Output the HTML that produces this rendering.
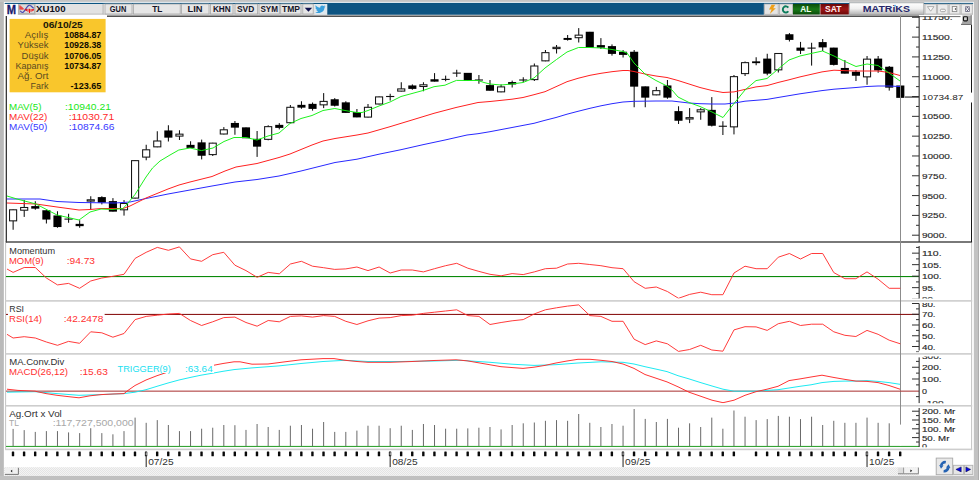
<!DOCTYPE html>
<html><head><meta charset="utf-8"><title>XU100</title>
<style>
html,body{margin:0;padding:0;background:#c0c0c0;}
body{width:979px;height:480px;overflow:hidden;font-family:"Liberation Sans",sans-serif;}
svg{display:block;font-family:"Liberation Sans",sans-serif;}
text{font-family:"Liberation Sans",sans-serif;}
.b{font-weight:bold}
</style></head><body>
<svg width="979" height="480" viewBox="0 0 979 480">
<defs>
<linearGradient id="btn" x1="0" y1="0" x2="0" y2="1"><stop offset="0" stop-color="#f4f4f4"/><stop offset="1" stop-color="#d8d8d8"/></linearGradient>
<linearGradient id="mtx" x1="0" y1="0" x2="0" y2="1"><stop offset="0" stop-color="#ffffff"/><stop offset="0.5" stop-color="#f0f0f0"/><stop offset="1" stop-color="#b4b4b4"/></linearGradient>
<linearGradient id="gal" x1="0" y1="0" x2="0" y2="1"><stop offset="0" stop-color="#0a4c0a"/><stop offset="0.5" stop-color="#187818"/><stop offset="1" stop-color="#0a4c0a"/></linearGradient>
<linearGradient id="gsat" x1="0" y1="0" x2="0" y2="1"><stop offset="0" stop-color="#6c0808"/><stop offset="0.5" stop-color="#9c1414"/><stop offset="1" stop-color="#6c0808"/></linearGradient>
<pattern id="hatch" width="2" height="2" patternUnits="userSpaceOnUse"><rect width="2" height="2" fill="#f4f4f4"/><rect width="1" height="1" fill="#e4e4e4"/><rect x="1" y="1" width="1" height="1" fill="#e4e4e4"/></pattern>
<clipPath id="cpMain"><rect x="6" y="16.5" width="966" height="225"/></clipPath>
<clipPath id="cpMom"><rect x="6" y="244" width="966" height="54.5"/></clipPath>
<clipPath id="cpRsi"><rect x="6" y="303" width="966" height="49.3"/></clipPath>
<clipPath id="cpMacd"><rect x="6" y="356.4" width="966" height="46.9"/></clipPath>
<clipPath id="cpVol"><rect x="6" y="407.5" width="966" height="39.8"/></clipPath>
</defs>

<rect x="0" y="0" width="979" height="480" fill="#bababa"/>
<rect x="0" y="0" width="979" height="2" fill="#c4c4c4"/>
<rect x="0" y="475.8" width="979" height="4.2" fill="#c0c0c0"/>
<rect x="973.8" y="0" width="4.2" height="480" fill="#c2c2c2"/>
<rect x="978" y="0" width="1" height="480" fill="#adadad"/>
<rect x="3.85" y="1.9" width="970" height="473.8" fill="#ffffff"/>
<g id="title">
<rect x="5" y="3.9" width="968" height="10.4" fill="#e2e2e2"/>
<rect x="5" y="13.7" width="968" height="0.8" fill="#b0b0b0"/>
<rect x="4.7" y="2.85" width="968.4" height="1.15" fill="#0b5481"/>
<rect x="4" y="3.95" width="13.8" height="11.5" fill="#ffffff"/>
<text x="6.7" y="13.75" class="b" font-size="11.9" fill="#1a1a6e" stroke="#1a1a6e" stroke-width="0.3" textLength="9.3" lengthAdjust="spacingAndGlyphs">M</text>
<rect x="18" y="4.2" width="17.5" height="10.4" fill="#b2b2b2"/>
<rect x="19.7" y="5" width="14.3" height="7.9" fill="#dadada"/>
<path d="M20 5.4 v4.2 M21 6.2 v3.4 M22 7 v2.6 M23 8 v1.6 M26.6 9 v2 M28 8.8 v3 M29.5 8.8 v4.2 M31 9 v2.8 M32.3 9 v2.2 M33.4 9 v1.6" stroke="#f01818" stroke-width="1" fill="none"/>
<path d="M20.3 10.8 C21.2 12.4 22.4 12.9 23.4 12 C25 10.6 26 8.4 27.2 6.8 C28.4 5.2 29.8 4.9 30.8 5.8 C31.8 6.6 32.8 7.6 33.7 8.4" stroke="#4848b4" stroke-width="1.1" fill="none"/>
<circle cx="25.6" cy="9.7" r="0.9" fill="#c01830"/>
<text x="36" y="12.1" class="b" font-size="8.6" fill="#101020" textLength="29.5" lengthAdjust="spacingAndGlyphs">XU100</text>
<rect x="102.7" y="3.8" width="1" height="10.5" fill="#a0a0a0"/><rect x="103.7" y="3.8" width="0.8" height="10.5" fill="#f8f8f8"/>
<rect x="105" y="4" width="27.0" height="10" fill="#e6e6e6" stroke="#a8a8a8" stroke-width="0.8"/>
<text x="109.8" y="12.4" class="b" font-size="8.6" fill="#141428" textLength="16.5" lengthAdjust="spacingAndGlyphs">GUN</text>
<rect x="133.4" y="4" width="46.8" height="10" fill="#e6e6e6" stroke="#a8a8a8" stroke-width="0.8"/>
<text x="152.2" y="12.4" class="b" font-size="8.6" fill="#141428" textLength="10.2" lengthAdjust="spacingAndGlyphs">TL</text>
<rect x="181.6" y="4" width="27.4" height="10" fill="#e6e6e6" stroke="#a8a8a8" stroke-width="0.8"/>
<text x="187.6" y="12.4" class="b" font-size="8.6" fill="#141428" textLength="15.0" lengthAdjust="spacingAndGlyphs">LIN</text>
<rect x="210.4" y="4" width="22.6" height="10" fill="#e6e6e6" stroke="#a8a8a8" stroke-width="0.8"/>
<text x="212.9" y="12.4" class="b" font-size="8.6" fill="#141428" textLength="17.8" lengthAdjust="spacingAndGlyphs">KHN</text>
<rect x="235" y="4" width="22.6" height="10" fill="#e6e6e6" stroke="#a8a8a8" stroke-width="0.8"/>
<text x="237" y="12.4" class="b" font-size="8.6" fill="#141428" textLength="17.3" lengthAdjust="spacingAndGlyphs">SVD</text>
<rect x="259" y="4" width="20.3" height="10" fill="#e6e6e6" stroke="#a8a8a8" stroke-width="0.8"/>
<text x="260.4" y="12.4" class="b" font-size="8.6" fill="#141428" textLength="17.6" lengthAdjust="spacingAndGlyphs">SYM</text>
<rect x="280.7" y="4" width="20.3" height="10" fill="#e6e6e6" stroke="#a8a8a8" stroke-width="0.8"/>
<text x="282" y="12.4" class="b" font-size="8.6" fill="#141428" textLength="18.0" lengthAdjust="spacingAndGlyphs">TMP</text>
<rect x="302.8" y="4" width="10.4" height="10" fill="#e6e6e6" stroke="#a8a8a8" stroke-width="0.8"/>
<path d="M304.7 7.8 h7.5 l-3.75 4 z" fill="#10104c"/>
<rect x="314.5" y="4" width="12.5" height="10.5" fill="#dfe8ee"/>
<path d="M315.6 5.2 c1.2 1.6 2.8 2.4 4.6 2.5 c-0.3 -1.8 1.9 -3 3.3 -1.6 l1.6 -0.6 l-0.7 1.3 l1.2 -0.2 l-1.2 1.2 c0.2 3.6 -4.6 7 -9.2 4.4 c1.3 0.1 2.3 -0.3 3 -1 c-1 -0.1 -1.7 -0.7 -2 -1.5 l0.9 -0.1 c-1 -0.4 -1.7 -1.2 -1.7 -2.2 l0.9 0.3 c-0.9 -0.8 -1.1 -1.8 -0.7 -2.5 z" fill="#3aa0dc"/>
<rect x="327.3" y="3.9" width="436.5" height="10.8" fill="#0d5482"/>
<rect x="764.6" y="4" width="13.6" height="10.3" fill="#e4e4e4" stroke="#b0b0b0" stroke-width="0.8"/>
<path d="M771.6 4.8 h3.6 l-2 3.4 h2.6 l-6 5.8 l1.8 -4.4 h-2.6 z" fill="#f0a018"/>
<rect x="779.4" y="4" width="13" height="10.3" fill="#e4e4e4" stroke="#b0b0b0" stroke-width="0.8"/>
<path d="M788.3 7.6 A3 3.1 0 1 0 788.3 11.2" fill="none" stroke="#0c7c5c" stroke-width="1.9"/>
<rect x="793" y="3.9" width="26.8" height="10.6" fill="url(#gal)"/>
<text x="800.2" y="11.95" class="b" font-size="9" fill="#f0fff0" textLength="11" lengthAdjust="spacingAndGlyphs">AL</text>
<rect x="820.4" y="3.9" width="28.4" height="10.6" fill="url(#gsat)"/>
<text x="825" y="11.95" class="b" font-size="9" fill="#fff0f0" textLength="16.4" lengthAdjust="spacingAndGlyphs">SAT</text>
<rect x="849.4" y="2.8" width="74.4" height="11.6" fill="url(#mtx)" stroke="#a0a0a0" stroke-width="0.8"/>
<text x="862.8" y="12.3" class="b" font-size="9.5" fill="#26266a" textLength="47.2" lengthAdjust="spacingAndGlyphs">MATRiKS</text>
<rect x="894.2" y="4.9" width="1.7" height="1.7" fill="#58b0e8"/>
<rect x="925" y="4.2" width="11.4" height="9.8" fill="#ebebeb" stroke="#b6b6b6" stroke-width="0.9"/>
<rect x="937.6" y="4.2" width="10.4" height="9.8" fill="#ebebeb" stroke="#b6b6b6" stroke-width="0.9"/>
<rect x="949.2" y="4.2" width="10.8" height="9.8" fill="#ebebeb" stroke="#b6b6b6" stroke-width="0.9"/>
<rect x="961.2" y="4.2" width="11.1" height="9.8" fill="#ebebeb" stroke="#b6b6b6" stroke-width="0.9"/>
<path d="M927.4 6.6 h6.6 l-3.3 4.6 z" fill="#fafafa" stroke="#a0a0a0" stroke-width="0.8"/>
<rect x="940.4" y="9.2" width="5" height="2.5" rx="1.2" fill="#fcfcfc" stroke="#9a9a9a" stroke-width="0.9"/>
<rect x="952.3" y="6.5" width="4.5" height="5.1" fill="#fafafa" stroke="#8a8a8a" stroke-width="0.9"/><rect x="954.9" y="8" width="1.2" height="2" fill="#707070"/>
<rect x="965.2" y="6.4" width="4.5" height="5.4" fill="#60607a"/>
<path d="M966 7.2 l2.9 3.8 M968.9 7.2 l-2.9 3.8" stroke="#ffffff" stroke-width="1" fill="none"/>
</g>
<g id="frames">
<rect x="107" y="15.5" width="812" height="1.4" fill="#404040"/>
<rect x="919" y="16" width="41.5" height="1.1" fill="#787878"/>
<rect x="5.7" y="16" width="1.25" height="226.5" fill="#303030"/>
<rect x="5.7" y="241.3" width="966.4" height="1.4" fill="#404040"/>
<rect x="971" y="24.4" width="1" height="68.2" fill="#181818"/>
<rect x="971" y="102.5" width="1" height="140" fill="#181818"/>
<rect x="5.1" y="242.6" width="1.0" height="207" fill="#c4c4c4"/>
<rect x="971.1" y="242.6" width="1.0" height="207" fill="#c4c4c4"/>
<rect x="5.2" y="300.1" width="967" height="1.6" fill="#cdcdcd"/>
<rect x="5.2" y="353.1" width="967" height="1.6" fill="#cdcdcd"/>
<rect x="5.2" y="405.0" width="967" height="1.6" fill="#cdcdcd"/>
<rect x="5.2" y="448.6" width="967" height="1.6" fill="#cdcdcd"/>
<path d="M962.4 15.4 H971.8 V24.6 H961 L962.4 21.8 Z" fill="#a6a6a6"/><rect x="961" y="24" width="10.4" height="0.8" fill="#585858"/><rect x="970.6" y="15" width="1.2" height="9.6" fill="#8a8a8a"/>
<rect x="963.5" y="16.8" width="3.9" height="4.1" rx="0.8" fill="#d0d0d0" stroke="#101010" stroke-width="1.1"/>
</g>
<rect x="900" y="15.4" width="1" height="410" fill="#8c8c8c"/>
<g id="main" clip-path="url(#cpMain)">
<rect x="12.60" y="209.40" width="1.05" height="20.35" fill="#101010"/>
<rect x="9.55" y="209.80" width="7.1" height="11.05" fill="#fff" stroke="#141414" stroke-width="1.05"/>
<rect x="23.69" y="200.00" width="1.05" height="16.90" fill="#101010"/>
<rect x="20.64" y="207.50" width="7.1" height="2.70" fill="#fff" stroke="#141414" stroke-width="1.05"/>
<rect x="34.78" y="201.25" width="1.05" height="8.50" fill="#101010"/>
<rect x="31.23" y="206.10" width="8.1" height="2.55" fill="#000"/>
<rect x="45.87" y="210.40" width="1.05" height="13.10" fill="#101010"/>
<rect x="42.32" y="210.25" width="8.1" height="9.30" fill="#000"/>
<rect x="56.96" y="211.25" width="1.05" height="16.50" fill="#101010"/>
<rect x="53.41" y="215.45" width="8.1" height="11.60" fill="#000"/>
<rect x="68.05" y="213.75" width="1.05" height="9.00" fill="#101010"/>
<rect x="64.45" y="218.55" width="8.2" height="1.1" fill="#101010"/>
<rect x="79.14" y="220.25" width="1.05" height="7.50" fill="#101010"/>
<rect x="75.59" y="223.85" width="8.1" height="2.30" fill="#000"/>
<rect x="90.23" y="196.25" width="1.05" height="13.75" fill="#101010"/>
<rect x="87.18" y="199.80" width="7.1" height="1.30" fill="#fff" stroke="#141414" stroke-width="1.05"/>
<rect x="101.32" y="196.25" width="1.05" height="8.15" fill="#101010"/>
<rect x="97.77" y="197.10" width="8.1" height="5.55" fill="#000"/>
<rect x="112.41" y="198.10" width="1.05" height="13.40" fill="#101010"/>
<rect x="108.86" y="201.10" width="8.1" height="10.55" fill="#000"/>
<rect x="123.50" y="200.10" width="1.05" height="15.50" fill="#101010"/>
<rect x="120.45" y="203.50" width="7.1" height="6.30" fill="#fff" stroke="#141414" stroke-width="1.05"/>
<rect x="134.59" y="160.25" width="1.05" height="38.25" fill="#101010"/>
<rect x="131.54" y="160.65" width="7.1" height="37.45" fill="#fff" stroke="#141414" stroke-width="1.05"/>
<rect x="145.68" y="144.75" width="1.05" height="15.50" fill="#101010"/>
<rect x="142.63" y="149.80" width="7.1" height="7.30" fill="#fff" stroke="#141414" stroke-width="1.05"/>
<rect x="156.77" y="131.25" width="1.05" height="16.00" fill="#101010"/>
<rect x="153.72" y="141.00" width="7.1" height="5.85" fill="#fff" stroke="#141414" stroke-width="1.05"/>
<rect x="167.86" y="125.25" width="1.05" height="16.25" fill="#101010"/>
<rect x="164.31" y="130.45" width="8.1" height="7.20" fill="#000"/>
<rect x="178.95" y="130.25" width="1.05" height="9.75" fill="#101010"/>
<rect x="175.90" y="134.15" width="7.1" height="1.95" fill="#fff" stroke="#141414" stroke-width="1.05"/>
<rect x="190.04" y="141.25" width="1.05" height="6.50" fill="#101010"/>
<rect x="186.49" y="144.85" width="8.1" height="3.05" fill="#000"/>
<rect x="201.13" y="139.60" width="1.05" height="19.80" fill="#101010"/>
<rect x="197.58" y="142.35" width="8.1" height="13.40" fill="#000"/>
<rect x="212.22" y="142.75" width="1.05" height="13.25" fill="#101010"/>
<rect x="209.17" y="143.15" width="7.1" height="11.45" fill="#fff" stroke="#141414" stroke-width="1.05"/>
<rect x="223.31" y="127.10" width="1.05" height="7.30" fill="#101010"/>
<rect x="220.26" y="129.80" width="7.1" height="4.20" fill="#fff" stroke="#141414" stroke-width="1.05"/>
<rect x="234.40" y="121.00" width="1.05" height="13.75" fill="#101010"/>
<rect x="230.85" y="122.95" width="8.1" height="4.70" fill="#000"/>
<rect x="245.49" y="127.50" width="1.05" height="10.60" fill="#101010"/>
<rect x="241.94" y="127.35" width="8.1" height="10.90" fill="#000"/>
<rect x="256.58" y="131.00" width="1.05" height="25.90" fill="#101010"/>
<rect x="253.03" y="138.85" width="8.1" height="7.80" fill="#000"/>
<rect x="267.67" y="125.25" width="1.05" height="15.05" fill="#101010"/>
<rect x="264.62" y="126.65" width="7.1" height="12.70" fill="#fff" stroke="#141414" stroke-width="1.05"/>
<rect x="278.76" y="123.10" width="1.05" height="6.30" fill="#101010"/>
<rect x="275.21" y="124.85" width="8.1" height="3.05" fill="#000"/>
<rect x="289.85" y="105.00" width="1.05" height="18.10" fill="#101010"/>
<rect x="286.80" y="107.30" width="7.1" height="15.40" fill="#fff" stroke="#141414" stroke-width="1.05"/>
<rect x="300.94" y="101.25" width="1.05" height="7.50" fill="#101010"/>
<rect x="297.39" y="104.85" width="8.1" height="2.80" fill="#000"/>
<rect x="312.03" y="102.50" width="1.05" height="8.10" fill="#101010"/>
<rect x="308.48" y="103.85" width="8.1" height="5.05" fill="#000"/>
<rect x="323.12" y="93.10" width="1.05" height="15.00" fill="#101010"/>
<rect x="320.07" y="101.40" width="7.1" height="3.45" fill="#fff" stroke="#141414" stroke-width="1.05"/>
<rect x="334.21" y="98.10" width="1.05" height="8.40" fill="#101010"/>
<rect x="330.66" y="99.25" width="8.1" height="6.50" fill="#000"/>
<rect x="345.30" y="101.25" width="1.05" height="11.50" fill="#101010"/>
<rect x="341.75" y="102.35" width="8.1" height="10.55" fill="#000"/>
<rect x="356.39" y="109.00" width="1.05" height="8.25" fill="#101010"/>
<rect x="352.84" y="112.10" width="8.1" height="5.30" fill="#000"/>
<rect x="367.48" y="104.00" width="1.05" height="13.50" fill="#101010"/>
<rect x="364.43" y="107.30" width="7.1" height="9.80" fill="#fff" stroke="#141414" stroke-width="1.05"/>
<rect x="378.57" y="96.50" width="1.05" height="7.90" fill="#101010"/>
<rect x="375.52" y="96.90" width="7.1" height="7.10" fill="#fff" stroke="#141414" stroke-width="1.05"/>
<rect x="389.66" y="93.75" width="1.05" height="6.85" fill="#101010"/>
<rect x="386.06" y="95.95" width="8.2" height="1.1" fill="#101010"/>
<rect x="400.75" y="82.25" width="1.05" height="9.25" fill="#101010"/>
<rect x="397.70" y="88.90" width="7.1" height="2.20" fill="#fff" stroke="#141414" stroke-width="1.05"/>
<rect x="411.84" y="84.40" width="1.05" height="5.35" fill="#101010"/>
<rect x="408.29" y="85.45" width="8.1" height="3.45" fill="#000"/>
<rect x="422.93" y="82.25" width="1.05" height="9.00" fill="#101010"/>
<rect x="419.88" y="84.80" width="7.1" height="1.70" fill="#fff" stroke="#141414" stroke-width="1.05"/>
<rect x="434.02" y="73.10" width="1.05" height="8.40" fill="#101010"/>
<rect x="430.47" y="79.25" width="8.1" height="2.40" fill="#000"/>
<rect x="445.11" y="75.60" width="1.05" height="5.65" fill="#101010"/>
<rect x="441.51" y="78.85" width="8.2" height="1.1" fill="#101010"/>
<rect x="456.20" y="69.75" width="1.05" height="7.15" fill="#101010"/>
<rect x="452.60" y="72.55" width="8.2" height="1.1" fill="#101010"/>
<rect x="467.29" y="73.00" width="1.05" height="8.00" fill="#101010"/>
<rect x="463.74" y="72.85" width="8.1" height="7.70" fill="#000"/>
<rect x="478.38" y="75.00" width="1.05" height="8.75" fill="#101010"/>
<rect x="474.78" y="79.45" width="8.2" height="1.1" fill="#101010"/>
<rect x="489.47" y="80.00" width="1.05" height="10.60" fill="#101010"/>
<rect x="485.92" y="85.10" width="8.1" height="5.65" fill="#000"/>
<rect x="500.56" y="84.40" width="1.05" height="7.85" fill="#101010"/>
<rect x="497.51" y="86.90" width="7.1" height="4.95" fill="#fff" stroke="#141414" stroke-width="1.05"/>
<rect x="511.65" y="80.60" width="1.05" height="6.90" fill="#101010"/>
<rect x="508.10" y="82.05" width="8.1" height="2.40" fill="#000"/>
<rect x="522.74" y="77.25" width="1.05" height="5.00" fill="#101010"/>
<rect x="519.14" y="79.45" width="8.2" height="1.1" fill="#101010"/>
<rect x="533.83" y="63.50" width="1.05" height="17.50" fill="#101010"/>
<rect x="530.78" y="66.00" width="7.1" height="13.60" fill="#fff" stroke="#141414" stroke-width="1.05"/>
<rect x="544.92" y="50.00" width="1.05" height="11.25" fill="#101010"/>
<rect x="541.87" y="52.65" width="7.1" height="8.20" fill="#fff" stroke="#141414" stroke-width="1.05"/>
<rect x="556.01" y="45.00" width="1.05" height="8.50" fill="#101010"/>
<rect x="552.96" y="47.30" width="7.1" height="1.30" fill="#fff" stroke="#141414" stroke-width="1.05"/>
<rect x="567.10" y="35.00" width="1.05" height="5.60" fill="#101010"/>
<rect x="563.55" y="37.95" width="8.1" height="1.95" fill="#000"/>
<rect x="578.19" y="28.10" width="1.05" height="14.40" fill="#101010"/>
<rect x="575.14" y="35.15" width="7.1" height="2.55" fill="#fff" stroke="#141414" stroke-width="1.05"/>
<rect x="589.28" y="31.90" width="1.05" height="15.60" fill="#101010"/>
<rect x="585.73" y="31.75" width="8.1" height="15.90" fill="#000"/>
<rect x="600.37" y="38.10" width="1.05" height="10.90" fill="#101010"/>
<rect x="596.82" y="45.10" width="8.1" height="2.55" fill="#000"/>
<rect x="611.46" y="44.40" width="1.05" height="11.20" fill="#101010"/>
<rect x="607.91" y="46.10" width="8.1" height="7.80" fill="#000"/>
<rect x="622.55" y="50.00" width="1.05" height="7.50" fill="#101010"/>
<rect x="619.00" y="51.75" width="8.1" height="3.15" fill="#000"/>
<rect x="633.64" y="50.00" width="1.05" height="57.25" fill="#101010"/>
<rect x="630.09" y="51.75" width="8.1" height="34.90" fill="#000"/>
<rect x="644.73" y="86.50" width="1.05" height="20.75" fill="#101010"/>
<rect x="641.18" y="86.35" width="8.1" height="11.30" fill="#000"/>
<rect x="655.82" y="86.90" width="1.05" height="8.35" fill="#101010"/>
<rect x="652.77" y="90.65" width="7.1" height="4.20" fill="#fff" stroke="#141414" stroke-width="1.05"/>
<rect x="666.91" y="80.00" width="1.05" height="18.75" fill="#101010"/>
<rect x="663.36" y="85.45" width="8.1" height="12.20" fill="#000"/>
<rect x="678.00" y="106.25" width="1.05" height="17.75" fill="#101010"/>
<rect x="674.45" y="111.10" width="8.1" height="9.65" fill="#000"/>
<rect x="689.09" y="108.10" width="1.05" height="15.00" fill="#101010"/>
<rect x="686.04" y="117.65" width="7.1" height="1.35" fill="#fff" stroke="#141414" stroke-width="1.05"/>
<rect x="700.18" y="108.10" width="1.05" height="11.65" fill="#101010"/>
<rect x="697.13" y="109.80" width="7.1" height="2.05" fill="#fff" stroke="#141414" stroke-width="1.05"/>
<rect x="711.27" y="97.10" width="1.05" height="29.40" fill="#101010"/>
<rect x="707.72" y="109.85" width="8.1" height="15.90" fill="#000"/>
<rect x="722.36" y="121.25" width="1.05" height="13.75" fill="#101010"/>
<rect x="718.76" y="125.70" width="8.2" height="1.1" fill="#101010"/>
<rect x="733.45" y="75.00" width="1.05" height="59.40" fill="#101010"/>
<rect x="730.40" y="76.65" width="7.1" height="50.20" fill="#fff" stroke="#141414" stroke-width="1.05"/>
<rect x="744.54" y="61.50" width="1.05" height="14.50" fill="#101010"/>
<rect x="741.49" y="62.65" width="7.1" height="10.95" fill="#fff" stroke="#141414" stroke-width="1.05"/>
<rect x="755.63" y="57.25" width="1.05" height="8.00" fill="#101010"/>
<rect x="752.08" y="61.35" width="8.1" height="1.80" fill="#000"/>
<rect x="766.72" y="53.75" width="1.05" height="21.50" fill="#101010"/>
<rect x="763.17" y="58.60" width="8.1" height="15.05" fill="#000"/>
<rect x="777.81" y="53.10" width="1.05" height="19.40" fill="#101010"/>
<rect x="774.76" y="53.50" width="7.1" height="16.35" fill="#fff" stroke="#141414" stroke-width="1.05"/>
<rect x="788.90" y="33.10" width="1.05" height="8.40" fill="#101010"/>
<rect x="785.35" y="34.25" width="8.1" height="5.65" fill="#000"/>
<rect x="799.99" y="41.90" width="1.05" height="12.10" fill="#101010"/>
<rect x="796.44" y="47.60" width="8.1" height="3.15" fill="#000"/>
<rect x="811.08" y="42.75" width="1.05" height="22.85" fill="#101010"/>
<rect x="807.48" y="47.55" width="8.2" height="1.1" fill="#101010"/>
<rect x="822.17" y="39.00" width="1.05" height="12.00" fill="#101010"/>
<rect x="818.62" y="42.10" width="8.1" height="5.30" fill="#000"/>
<rect x="833.26" y="47.75" width="1.05" height="17.75" fill="#101010"/>
<rect x="829.71" y="47.60" width="8.1" height="17.30" fill="#000"/>
<rect x="844.35" y="60.00" width="1.05" height="13.50" fill="#101010"/>
<rect x="840.80" y="67.95" width="8.1" height="5.70" fill="#000"/>
<rect x="855.44" y="70.00" width="1.05" height="11.00" fill="#101010"/>
<rect x="851.89" y="71.75" width="8.1" height="4.00" fill="#000"/>
<rect x="866.53" y="56.00" width="1.05" height="28.75" fill="#101010"/>
<rect x="863.48" y="59.15" width="7.1" height="17.70" fill="#fff" stroke="#141414" stroke-width="1.05"/>
<rect x="877.62" y="56.00" width="1.05" height="16.75" fill="#101010"/>
<rect x="874.07" y="58.60" width="8.1" height="11.80" fill="#000"/>
<rect x="888.71" y="66.00" width="1.05" height="24.60" fill="#101010"/>
<rect x="885.16" y="66.75" width="8.1" height="20.90" fill="#000"/>
<rect x="896.25" y="85.50" width="8.1" height="12.35" fill="#000"/>
<polyline points="7.0,199.0 40.0,199.0 57.0,201.5 79.0,202.5 101.0,202.8 115.0,203.0 130.0,202.0 146.0,198.5 168.0,194.0 190.0,190.0 212.0,186.0 235.0,182.0 257.0,179.5 279.0,176.0 301.0,171.0 323.0,165.5 335.0,162.5 357.0,159.2 379.0,154.2 401.0,149.7 423.0,144.7 445.0,140.0 467.0,135.0 478.0,133.7 490.0,131.7 512.0,127.5 534.0,123.3 545.0,120.3 556.0,117.5 567.0,114.2 578.0,111.3 590.0,108.3 601.0,105.8 612.0,103.7 623.0,102.0 634.0,101.3 656.0,101.0 672.0,101.0 689.0,103.0 700.0,103.7 712.0,104.0 725.0,104.0 734.0,103.1 745.0,101.2 767.0,99.4 778.0,97.5 800.0,93.8 822.0,90.6 834.0,89.2 856.0,87.5 867.0,86.5 878.0,86.0 889.0,86.0 900.0,86.5" fill="none" stroke="#2828ff" stroke-width="1.0" stroke-linejoin="round"/>
<polyline points="7.0,203.0 36.0,204.0 57.0,207.0 79.0,210.0 90.0,209.5 101.0,208.5 123.0,208.5 130.0,206.0 146.0,198.0 168.0,189.0 179.0,185.0 190.0,182.0 212.0,176.5 225.0,171.0 236.0,167.0 257.0,163.5 279.0,157.5 290.0,154.0 312.0,145.0 323.0,141.0 335.0,138.5 357.0,135.0 368.0,133.0 390.0,126.7 412.0,120.0 434.0,113.3 456.0,107.5 478.0,102.5 490.0,101.5 512.0,99.2 523.0,97.5 534.0,94.7 545.0,91.7 556.0,86.7 567.0,81.7 578.0,78.3 590.0,75.3 601.0,73.3 612.0,71.7 623.0,70.5 628.0,70.5 634.0,71.5 645.0,74.0 656.0,76.0 667.0,77.5 678.0,80.5 689.0,84.0 700.0,87.5 712.0,90.5 723.0,92.5 734.0,91.9 745.0,89.4 756.0,86.9 767.0,85.6 778.0,82.5 789.0,79.8 800.0,76.9 811.0,74.4 822.0,71.9 834.0,70.2 845.0,70.7 856.0,71.0 867.0,71.0 878.0,71.0 889.0,72.5 900.0,75.5" fill="none" stroke="#ff2020" stroke-width="1.0" stroke-linejoin="round"/>
<polyline points="7.0,196.0 17.0,199.0 36.0,204.0 57.0,215.0 79.0,220.0 90.0,212.0 101.0,209.0 112.0,209.5 123.0,208.5 128.0,203.0 135.0,194.5 146.0,177.0 152.5,168.0 160.0,161.0 170.0,155.0 178.8,150.0 190.0,148.0 201.5,150.6 213.0,148.0 224.0,141.5 234.0,137.5 246.0,137.5 257.0,140.0 268.0,136.0 279.0,133.0 290.0,123.5 301.0,118.5 312.0,115.5 323.0,110.5 334.8,108.5 345.0,110.5 357.0,112.5 362.0,112.5 368.0,110.5 379.0,106.0 390.0,102.0 401.0,96.5 412.0,93.5 423.0,90.5 434.0,86.7 445.0,85.2 451.0,82.6 456.5,80.4 467.0,80.5 478.0,80.5 484.0,82.5 490.0,84.0 501.0,85.0 512.0,84.0 523.0,82.5 534.0,78.0 545.0,68.0 556.5,59.5 567.0,52.0 578.5,47.5 590.0,47.5 601.0,48.0 612.0,49.5 623.0,51.5 627.0,53.0 634.0,63.0 645.0,74.0 656.0,80.5 667.0,86.0 672.0,90.0 678.0,97.0 689.0,102.5 700.0,106.5 712.0,112.0 723.0,117.5 728.0,111.0 734.0,103.5 745.0,90.0 756.0,80.6 767.0,78.5 778.0,69.2 789.0,60.0 800.0,56.0 811.0,53.5 822.5,51.0 834.0,56.0 845.0,61.5 856.0,66.5 867.0,64.0 878.0,65.5 889.0,73.0 900.0,81.0" fill="none" stroke="#12f012" stroke-width="0.95" stroke-linejoin="round"/>
<rect x="900" y="15.4" width="1" height="227" fill="#8c8c8c"/>
<rect x="905" y="96.5" width="14" height="1.1" fill="#202020"/>
</g>
<g id="info">
<rect x="9.6" y="18.9" width="96" height="73.4" fill="#f9c62c"/>
<text x="43" y="27.8" class="b" font-size="8.4" fill="#201808" textLength="39.8" lengthAdjust="spacingAndGlyphs">06/10/25</text>
<text x="24.7" y="38.3" font-size="8.6" fill="#5a4a20" textLength="23.7" lengthAdjust="spacingAndGlyphs">Açılış</text>
<text x="64.2" y="38.3" class="b" font-size="8.4" fill="#100c00" textLength="37.1" lengthAdjust="spacingAndGlyphs">10884.87</text>
<text x="17.6" y="48.4" font-size="8.6" fill="#5a4a20" textLength="30.8" lengthAdjust="spacingAndGlyphs">Yüksek</text>
<text x="64.2" y="48.4" class="b" font-size="8.4" fill="#100c00" textLength="37.1" lengthAdjust="spacingAndGlyphs">10928.38</text>
<text x="21.6" y="58.5" font-size="8.6" fill="#5a4a20" textLength="26.8" lengthAdjust="spacingAndGlyphs">Düşük</text>
<text x="64.2" y="58.5" class="b" font-size="8.4" fill="#100c00" textLength="37.1" lengthAdjust="spacingAndGlyphs">10706.05</text>
<text x="15.4" y="68.6" font-size="8.6" fill="#5a4a20" textLength="33.0" lengthAdjust="spacingAndGlyphs">Kapanış</text>
<text x="64.2" y="68.6" class="b" font-size="8.4" fill="#100c00" textLength="37.1" lengthAdjust="spacingAndGlyphs">10734.87</text>
<text x="17.6" y="78.7" font-size="8.6" fill="#5a4a20" textLength="30.8" lengthAdjust="spacingAndGlyphs">Ağ. Ort</text>
<text x="30.6" y="88.8" font-size="8.6" fill="#5a4a20" textLength="17.8" lengthAdjust="spacingAndGlyphs">Fark</text>
<text x="70.6" y="88.8" class="b" font-size="8.4" fill="#100c00" textLength="30.7" lengthAdjust="spacingAndGlyphs">-123.65</text>
</g>
<text x="9" y="110" font-size="8.2" fill="#18e818" textLength="32.4" lengthAdjust="spacingAndGlyphs">MAV(5)</text>
<text x="65" y="110" font-size="8.2" fill="#18e818" textLength="45.9" lengthAdjust="spacingAndGlyphs">:10940.21</text>
<text x="9" y="119.9" font-size="8.2" fill="#ff2828" textLength="38.4" lengthAdjust="spacingAndGlyphs">MAV(22)</text>
<text x="68.7" y="119.9" font-size="8.2" fill="#ff2828" textLength="45.5" lengthAdjust="spacingAndGlyphs">:11030.71</text>
<text x="9" y="129.9" font-size="8.2" fill="#3838ff" textLength="38.4" lengthAdjust="spacingAndGlyphs">MAV(50)</text>
<text x="68.7" y="129.9" font-size="8.2" fill="#3838ff" textLength="45.8" lengthAdjust="spacingAndGlyphs">:10874.66</text>
<g id="axmain">
<rect x="918.6" y="16" width="1.1" height="226" fill="#303030"/>
<rect x="912" y="16.79" width="7" height="1" fill="#303030"/>
<rect x="916" y="26.70" width="3" height="1" fill="#303030"/>
<rect x="912" y="36.60" width="7" height="1" fill="#303030"/>
<rect x="916" y="46.51" width="3" height="1" fill="#303030"/>
<rect x="912" y="56.41" width="7" height="1" fill="#303030"/>
<rect x="916" y="66.31" width="3" height="1" fill="#303030"/>
<rect x="912" y="76.22" width="7" height="1" fill="#303030"/>
<rect x="916" y="86.12" width="3" height="1" fill="#303030"/>
<rect x="912" y="96.03" width="7" height="1" fill="#303030"/>
<rect x="916" y="105.94" width="3" height="1" fill="#303030"/>
<rect x="912" y="115.84" width="7" height="1" fill="#303030"/>
<rect x="916" y="125.75" width="3" height="1" fill="#303030"/>
<rect x="912" y="135.65" width="7" height="1" fill="#303030"/>
<rect x="916" y="145.56" width="3" height="1" fill="#303030"/>
<rect x="912" y="155.46" width="7" height="1" fill="#303030"/>
<rect x="916" y="165.37" width="3" height="1" fill="#303030"/>
<rect x="912" y="175.27" width="7" height="1" fill="#303030"/>
<rect x="916" y="185.18" width="3" height="1" fill="#303030"/>
<rect x="912" y="195.08" width="7" height="1" fill="#303030"/>
<rect x="916" y="204.99" width="3" height="1" fill="#303030"/>
<rect x="912" y="214.89" width="7" height="1" fill="#303030"/>
<rect x="916" y="224.80" width="3" height="1" fill="#303030"/>
<rect x="912" y="234.70" width="7" height="1" fill="#303030"/>
<g clip-path="url(#cpMain)">
<text x="922" y="20.3" font-size="8.1" fill="#262626" stroke="#262626" stroke-width="0.15" textLength="30.6" lengthAdjust="spacingAndGlyphs">11750.</text>
<text x="922" y="40.1" font-size="8.1" fill="#262626" stroke="#262626" stroke-width="0.15" textLength="30.6" lengthAdjust="spacingAndGlyphs">11500.</text>
<text x="922" y="60.0" font-size="8.1" fill="#262626" stroke="#262626" stroke-width="0.15" textLength="30.6" lengthAdjust="spacingAndGlyphs">11250.</text>
<text x="922" y="79.8" font-size="8.1" fill="#262626" stroke="#262626" stroke-width="0.15" textLength="30.6" lengthAdjust="spacingAndGlyphs">11000.</text>
<text x="922" y="119.4" font-size="8.1" fill="#262626" stroke="#262626" stroke-width="0.15" textLength="30.6" lengthAdjust="spacingAndGlyphs">10500.</text>
<text x="922" y="139.2" font-size="8.1" fill="#262626" stroke="#262626" stroke-width="0.15" textLength="30.6" lengthAdjust="spacingAndGlyphs">10250.</text>
<text x="922" y="159.0" font-size="8.1" fill="#262626" stroke="#262626" stroke-width="0.15" textLength="30.6" lengthAdjust="spacingAndGlyphs">10000.</text>
<text x="922" y="178.8" font-size="8.1" fill="#262626" stroke="#262626" stroke-width="0.15" textLength="25" lengthAdjust="spacingAndGlyphs">9750.</text>
<text x="922" y="198.6" font-size="8.1" fill="#262626" stroke="#262626" stroke-width="0.15" textLength="25" lengthAdjust="spacingAndGlyphs">9500.</text>
<text x="922" y="218.4" font-size="8.1" fill="#262626" stroke="#262626" stroke-width="0.15" textLength="25" lengthAdjust="spacingAndGlyphs">9250.</text>
<text x="922" y="238.3" font-size="8.1" fill="#262626" stroke="#262626" stroke-width="0.15" textLength="25" lengthAdjust="spacingAndGlyphs">9000.</text>
</g>
<text x="922" y="100.1" font-size="8.1" fill="#181818" textLength="41.4" lengthAdjust="spacingAndGlyphs">10734.87</text>
</g>
<g id="mom" clip-path="url(#cpMom)">
<rect x="6" y="276" width="913" height="1.1" fill="#0a8a0a"/>
<polyline points="7.0,269.0 13.1,272.4 24.2,267.5 35.3,267.5 46.4,278.0 57.5,284.9 68.5,283.4 79.6,288.3 90.7,281.0 101.8,278.0 112.9,276.3 124.0,274.3 135.1,258.4 146.2,252.3 157.3,247.4 168.4,250.3 179.4,246.9 190.5,258.9 201.6,261.3 212.7,254.7 223.8,252.3 234.9,265.2 246.0,270.6 257.1,277.3 268.2,272.4 279.3,273.8 290.4,264.0 301.4,261.3 312.5,266.2 323.6,267.7 334.7,269.4 345.8,268.9 356.9,267.0 368.0,270.6 379.1,267.0 390.2,273.0 401.2,270.0 412.3,270.0 423.4,271.9 434.5,268.7 445.6,265.7 456.7,263.3 467.8,268.2 478.9,271.4 490.0,274.3 501.1,275.8 512.1,273.6 523.2,274.6 534.3,271.9 545.4,268.7 556.5,268.2 567.6,264.0 578.7,263.3 589.8,264.5 600.9,265.7 612.0,267.7 623.1,268.7 634.1,281.7 645.2,288.3 656.3,287.0 667.4,291.5 678.5,298.3 689.6,294.4 700.7,292.2 711.8,294.7 722.9,294.7 734.0,273.0 745.0,266.2 756.1,268.7 767.2,268.7 778.3,257.2 789.4,253.5 800.5,259.0 811.6,253.5 822.7,253.5 833.8,272.6 844.9,278.7 855.9,278.7 867.0,271.9 878.1,279.2 889.2,288.3 900.3,288.3" fill="none" stroke="#ff3030" stroke-width="0.95" stroke-linejoin="round"/>
<rect x="918.6" y="246" width="1.1" height="53" fill="#303030"/>
<rect x="912" y="252.65" width="7" height="1" fill="#303030"/>
<text x="922" y="256.2" font-size="8.1" fill="#262626" stroke="#262626" stroke-width="0.15" textLength="19.6" lengthAdjust="spacingAndGlyphs">110.</text>
<rect x="912" y="264.15" width="7" height="1" fill="#303030"/>
<text x="922" y="267.7" font-size="8.1" fill="#262626" stroke="#262626" stroke-width="0.15" textLength="19.6" lengthAdjust="spacingAndGlyphs">105.</text>
<rect x="912" y="275.65" width="7" height="1" fill="#303030"/>
<text x="922" y="279.2" font-size="8.1" fill="#262626" stroke="#262626" stroke-width="0.15" textLength="19.6" lengthAdjust="spacingAndGlyphs">100.</text>
<rect x="912" y="287.15" width="7" height="1" fill="#303030"/>
<text x="922" y="290.7" font-size="8.1" fill="#262626" stroke="#262626" stroke-width="0.15" textLength="13.6" lengthAdjust="spacingAndGlyphs">95.</text>
<rect x="912" y="298.65" width="7" height="1" fill="#303030"/>
<text x="922" y="302.2" font-size="8.1" fill="#262626" stroke="#262626" stroke-width="0.15" textLength="13.6" lengthAdjust="spacingAndGlyphs">90.</text>
<rect x="916" y="246.90" width="3" height="1" fill="#303030"/>
<rect x="916" y="258.40" width="3" height="1" fill="#303030"/>
<rect x="916" y="269.90" width="3" height="1" fill="#303030"/>
<rect x="916" y="281.40" width="3" height="1" fill="#303030"/>
<rect x="916" y="292.90" width="3" height="1" fill="#303030"/>
</g>
<text x="9.3" y="253.9" font-size="8.4" fill="#303030" textLength="45.7" lengthAdjust="spacingAndGlyphs">Momentum</text>
<text x="9" y="263.8" font-size="8.2" fill="#ff3030" textLength="34.6" lengthAdjust="spacingAndGlyphs">MOM(9)</text>
<text x="66.7" y="263.8" font-size="8.2" fill="#ff3030" textLength="28.3" lengthAdjust="spacingAndGlyphs">:94.73</text>
<g id="rsi" clip-path="url(#cpRsi)">
<rect x="6" y="313.9" width="913" height="1.0" fill="#800000"/>
<rect x="8" y="314.4" width="96.5" height="9" fill="#ffffff"/>
<rect x="8" y="312" width="96.5" height="3" fill="#ffffff"/>
<polyline points="7.0,334.3 13.1,338.0 24.2,336.7 35.3,338.0 46.4,342.0 57.5,345.3 68.5,341.4 79.6,343.3 90.7,331.8 101.8,332.8 112.9,337.2 124.0,333.5 135.1,319.6 146.2,316.4 157.3,315.2 168.4,314.0 179.4,313.4 190.5,320.5 201.6,325.5 212.7,321.8 223.8,317.6 234.9,317.1 246.0,322.5 257.1,326.2 268.2,320.5 279.3,321.8 290.4,316.4 301.4,315.9 312.5,317.1 323.6,315.6 334.7,316.4 345.8,321.3 356.9,324.5 368.0,320.8 379.1,318.1 390.2,317.6 401.2,315.6 412.3,315.2 423.4,313.4 434.5,312.2 445.6,311.0 456.7,309.8 467.8,315.6 478.9,316.4 490.0,324.5 501.1,322.5 512.1,320.8 523.2,319.6 534.3,313.9 545.4,309.8 556.5,307.8 567.6,306.1 578.7,304.9 589.8,315.6 600.9,316.4 612.0,321.3 623.1,321.3 634.1,339.2 645.2,344.6 656.3,340.9 667.4,343.8 678.5,351.4 689.6,349.5 700.7,345.3 711.8,350.0 722.9,351.2 734.0,329.9 745.0,326.7 756.1,326.9 767.2,330.4 778.3,323.7 789.4,321.3 800.5,325.5 811.6,324.2 822.7,324.2 833.8,331.8 844.9,335.3 855.9,336.5 867.0,330.4 878.1,334.3 889.2,340.2 900.3,343.8" fill="none" stroke="#ff3030" stroke-width="0.95" stroke-linejoin="round"/>
<rect x="918.6" y="303.5" width="1.1" height="47" fill="#303030"/>
<rect x="912" y="303.00" width="7" height="1" fill="#303030"/>
<text x="922" y="306.6" font-size="8.1" fill="#262626" stroke="#262626" stroke-width="0.15" textLength="13.6" lengthAdjust="spacingAndGlyphs">80.</text>
<rect x="912" y="313.75" width="7" height="1" fill="#303030"/>
<text x="922" y="317.3" font-size="8.1" fill="#262626" stroke="#262626" stroke-width="0.15" textLength="13.6" lengthAdjust="spacingAndGlyphs">70.</text>
<rect x="912" y="324.50" width="7" height="1" fill="#303030"/>
<text x="922" y="328.1" font-size="8.1" fill="#262626" stroke="#262626" stroke-width="0.15" textLength="13.6" lengthAdjust="spacingAndGlyphs">60.</text>
<rect x="912" y="335.25" width="7" height="1" fill="#303030"/>
<text x="922" y="338.8" font-size="8.1" fill="#262626" stroke="#262626" stroke-width="0.15" textLength="13.6" lengthAdjust="spacingAndGlyphs">50.</text>
<rect x="912" y="346.00" width="7" height="1" fill="#303030"/>
<text x="922" y="349.6" font-size="8.1" fill="#262626" stroke="#262626" stroke-width="0.15" textLength="13.6" lengthAdjust="spacingAndGlyphs">40.</text>
<rect x="916" y="308.38" width="3" height="1" fill="#303030"/>
<rect x="916" y="319.12" width="3" height="1" fill="#303030"/>
<rect x="916" y="329.88" width="3" height="1" fill="#303030"/>
<rect x="916" y="340.62" width="3" height="1" fill="#303030"/>
<rect x="916" y="351.38" width="3" height="1" fill="#303030"/>
</g>
<text x="9.3" y="311.6" font-size="8.4" fill="#303030" textLength="14.7" lengthAdjust="spacingAndGlyphs">RSI</text>
<text x="9" y="321.8" font-size="8.2" fill="#ff3030" textLength="33.0" lengthAdjust="spacingAndGlyphs">RSI(14)</text>
<text x="63.7" y="321.8" font-size="8.2" fill="#ff3030" textLength="39.7" lengthAdjust="spacingAndGlyphs">:42.2478</text>
<g id="macd" clip-path="url(#cpMacd)">
<rect x="6" y="390.6" width="913" height="1.1" fill="#b04040"/>
<polyline points="7.0,392.2 35.0,391.7 57.0,393.6 79.0,395.3 101.0,394.6 124.0,393.6 135.0,392.2 146.0,389.7 157.0,386.3 168.0,383.0 179.0,380.0 190.0,377.5 201.0,375.2 212.0,373.3 223.0,371.3 234.0,369.6 252.0,367.9 279.0,365.9 301.0,363.5 323.0,361.5 345.0,360.3 368.0,361.5 401.0,361.5 434.0,361.0 460.0,360.3 490.0,362.3 512.0,364.2 534.0,365.4 556.0,364.7 578.0,363.0 601.0,361.8 623.0,362.3 634.0,364.0 645.0,366.7 656.0,369.1 667.0,371.6 678.0,375.7 689.0,378.9 700.0,382.4 712.0,386.0 723.0,389.2 734.0,391.2 756.0,391.2 767.0,390.4 778.0,389.7 789.0,388.0 800.0,386.3 811.0,384.8 822.0,382.6 834.0,381.4 845.0,381.1 856.0,381.1 867.0,380.6 878.0,381.4 889.0,382.6 900.0,384.3" fill="none" stroke="#10e8f0" stroke-width="0.95" stroke-linejoin="round"/>
<polyline points="7.0,389.2 18.0,390.4 35.0,391.2 46.0,393.6 57.0,395.3 68.0,396.6 79.0,397.8 90.0,395.8 101.0,394.6 113.0,394.0 124.0,393.6 128.0,390.4 135.0,385.5 146.0,380.0 157.0,375.7 168.0,372.0 179.0,369.5 190.0,368.0 201.0,366.5 213.0,365.4 223.0,363.5 234.0,361.8 240.0,361.8 252.0,364.2 268.0,364.0 285.0,361.8 301.0,359.8 323.0,358.6 334.0,358.6 345.0,360.3 357.0,361.5 368.0,362.3 390.0,362.3 412.0,361.5 434.0,360.5 456.0,359.8 467.0,360.8 478.0,362.7 501.0,366.7 523.0,368.4 534.0,367.2 545.0,365.4 556.0,363.0 567.0,361.0 578.0,359.3 590.0,359.3 601.0,360.3 612.0,361.5 623.0,364.0 634.0,368.4 645.0,374.5 656.0,378.2 667.0,381.9 678.0,386.8 689.0,392.2 700.0,396.0 712.0,400.2 723.0,402.7 734.0,400.2 745.0,395.3 756.0,391.7 767.0,389.2 778.0,386.3 789.0,380.6 800.0,378.9 811.0,377.0 822.0,375.2 834.0,377.5 845.0,379.4 856.0,381.1 867.0,381.4 878.0,382.6 889.0,385.5 900.0,389.2" fill="none" stroke="#ff2828" stroke-width="0.95" stroke-linejoin="round"/>
<rect x="116" y="363.5" width="98" height="9.5" fill="#ffffff"/>
<rect x="918.6" y="357.4" width="1.1" height="46" fill="#303030"/>
<text x="922" y="358.6" font-size="8.1" fill="#262626" stroke="#262626" stroke-width="0.15" textLength="19.6" lengthAdjust="spacingAndGlyphs">300.</text>
<rect x="912" y="366.75" width="7" height="1" fill="#303030"/>
<text x="922" y="370.3" font-size="8.1" fill="#262626" stroke="#262626" stroke-width="0.15" textLength="19.6" lengthAdjust="spacingAndGlyphs">200.</text>
<rect x="912" y="378.50" width="7" height="1" fill="#303030"/>
<text x="922" y="382.1" font-size="8.1" fill="#262626" stroke="#262626" stroke-width="0.15" textLength="19.6" lengthAdjust="spacingAndGlyphs">100.</text>
<text x="922" y="393.8" font-size="8.1" fill="#262626" stroke="#262626" stroke-width="0.15" textLength="5" lengthAdjust="spacingAndGlyphs">0</text>
<text x="923.4" y="405.6" font-size="8.1" fill="#262626" stroke="#262626" stroke-width="0.15" textLength="23" lengthAdjust="spacingAndGlyphs">-100.</text>
<rect x="916" y="360.88" width="3" height="1" fill="#303030"/>
<rect x="916" y="372.62" width="3" height="1" fill="#303030"/>
<rect x="916" y="384.38" width="3" height="1" fill="#303030"/>
<rect x="916" y="396.12" width="3" height="1" fill="#303030"/>
</g>
<text x="9.3" y="365.0" font-size="8.4" fill="#303030" textLength="54.9" lengthAdjust="spacingAndGlyphs">MA.Conv.Div</text>
<text x="9" y="375" font-size="8.2" fill="#ff3030" textLength="59.0" lengthAdjust="spacingAndGlyphs">MACD(26,12)</text>
<text x="79.7" y="375" font-size="8.2" fill="#ff3030" textLength="28.1" lengthAdjust="spacingAndGlyphs">:15.63</text>
<text x="117.6" y="371.6" font-size="8.2" fill="#20e0f0" textLength="53.2" lengthAdjust="spacingAndGlyphs">TRIGGER(9)</text>
<text x="185" y="371.6" font-size="8.2" fill="#20e0f0" textLength="27.7" lengthAdjust="spacingAndGlyphs">:63.64</text>
<g id="vol" clip-path="url(#cpVol)">
<rect x="12.60" y="428.9" width="1" height="17.1" fill="#6a6a6a"/>
<rect x="23.69" y="430.1" width="1" height="15.9" fill="#6a6a6a"/>
<rect x="34.78" y="431.9" width="1" height="14.1" fill="#6a6a6a"/>
<rect x="45.87" y="431.1" width="1" height="14.9" fill="#6a6a6a"/>
<rect x="56.96" y="431.1" width="1" height="14.9" fill="#6a6a6a"/>
<rect x="68.05" y="432.4" width="1" height="13.6" fill="#6a6a6a"/>
<rect x="79.14" y="433.1" width="1" height="12.9" fill="#6a6a6a"/>
<rect x="90.23" y="428.2" width="1" height="17.8" fill="#6a6a6a"/>
<rect x="101.32" y="433.1" width="1" height="12.9" fill="#6a6a6a"/>
<rect x="112.41" y="434.3" width="1" height="11.7" fill="#6a6a6a"/>
<rect x="123.50" y="431.1" width="1" height="14.9" fill="#6a6a6a"/>
<rect x="134.59" y="417.6" width="1" height="28.4" fill="#6a6a6a"/>
<rect x="145.68" y="422.8" width="1" height="23.2" fill="#6a6a6a"/>
<rect x="156.77" y="420.1" width="1" height="25.9" fill="#6a6a6a"/>
<rect x="167.86" y="425.0" width="1" height="21.0" fill="#6a6a6a"/>
<rect x="178.95" y="431.1" width="1" height="14.9" fill="#6a6a6a"/>
<rect x="190.04" y="431.1" width="1" height="14.9" fill="#6a6a6a"/>
<rect x="201.13" y="428.7" width="1" height="17.3" fill="#6a6a6a"/>
<rect x="212.22" y="427.7" width="1" height="18.3" fill="#6a6a6a"/>
<rect x="223.31" y="425.0" width="1" height="21.0" fill="#6a6a6a"/>
<rect x="234.40" y="425.2" width="1" height="20.8" fill="#6a6a6a"/>
<rect x="245.49" y="429.9" width="1" height="16.1" fill="#6a6a6a"/>
<rect x="256.58" y="424.0" width="1" height="22.0" fill="#6a6a6a"/>
<rect x="267.67" y="427.0" width="1" height="19.0" fill="#6a6a6a"/>
<rect x="278.76" y="429.9" width="1" height="16.1" fill="#6a6a6a"/>
<rect x="289.85" y="425.7" width="1" height="20.3" fill="#6a6a6a"/>
<rect x="300.94" y="425.0" width="1" height="21.0" fill="#6a6a6a"/>
<rect x="312.03" y="428.7" width="1" height="17.3" fill="#6a6a6a"/>
<rect x="323.12" y="422.0" width="1" height="24.0" fill="#6a6a6a"/>
<rect x="334.21" y="431.9" width="1" height="14.1" fill="#6a6a6a"/>
<rect x="345.30" y="431.9" width="1" height="14.1" fill="#6a6a6a"/>
<rect x="356.39" y="430.6" width="1" height="15.4" fill="#6a6a6a"/>
<rect x="367.48" y="425.7" width="1" height="20.3" fill="#6a6a6a"/>
<rect x="378.57" y="425.7" width="1" height="20.3" fill="#6a6a6a"/>
<rect x="389.66" y="428.2" width="1" height="17.8" fill="#6a6a6a"/>
<rect x="400.75" y="425.7" width="1" height="20.3" fill="#6a6a6a"/>
<rect x="411.84" y="429.9" width="1" height="16.1" fill="#6a6a6a"/>
<rect x="422.93" y="424.0" width="1" height="22.0" fill="#6a6a6a"/>
<rect x="434.02" y="425.0" width="1" height="21.0" fill="#6a6a6a"/>
<rect x="445.11" y="428.7" width="1" height="17.3" fill="#6a6a6a"/>
<rect x="456.20" y="428.7" width="1" height="17.3" fill="#6a6a6a"/>
<rect x="467.29" y="428.4" width="1" height="17.6" fill="#6a6a6a"/>
<rect x="478.38" y="427.7" width="1" height="18.3" fill="#6a6a6a"/>
<rect x="489.47" y="427.0" width="1" height="19.0" fill="#6a6a6a"/>
<rect x="500.56" y="429.4" width="1" height="16.6" fill="#6a6a6a"/>
<rect x="511.65" y="425.0" width="1" height="21.0" fill="#6a6a6a"/>
<rect x="522.74" y="423.3" width="1" height="22.7" fill="#6a6a6a"/>
<rect x="533.83" y="422.5" width="1" height="23.5" fill="#6a6a6a"/>
<rect x="544.92" y="420.8" width="1" height="25.2" fill="#6a6a6a"/>
<rect x="556.01" y="420.1" width="1" height="25.9" fill="#6a6a6a"/>
<rect x="567.10" y="420.8" width="1" height="25.2" fill="#6a6a6a"/>
<rect x="578.19" y="414.0" width="1" height="32.0" fill="#6a6a6a"/>
<rect x="589.28" y="422.8" width="1" height="23.2" fill="#6a6a6a"/>
<rect x="600.37" y="427.0" width="1" height="19.0" fill="#6a6a6a"/>
<rect x="611.46" y="424.0" width="1" height="22.0" fill="#6a6a6a"/>
<rect x="622.55" y="425.7" width="1" height="20.3" fill="#6a6a6a"/>
<rect x="633.64" y="409.0" width="1" height="37.0" fill="#6a6a6a"/>
<rect x="644.73" y="418.9" width="1" height="27.1" fill="#6a6a6a"/>
<rect x="655.82" y="422.0" width="1" height="24.0" fill="#6a6a6a"/>
<rect x="666.91" y="418.9" width="1" height="27.1" fill="#6a6a6a"/>
<rect x="678.00" y="427.7" width="1" height="18.3" fill="#6a6a6a"/>
<rect x="689.09" y="423.3" width="1" height="22.7" fill="#6a6a6a"/>
<rect x="700.18" y="427.0" width="1" height="19.0" fill="#6a6a6a"/>
<rect x="711.27" y="417.6" width="1" height="28.4" fill="#6a6a6a"/>
<rect x="722.36" y="428.7" width="1" height="17.3" fill="#6a6a6a"/>
<rect x="733.45" y="410.5" width="1" height="35.5" fill="#6a6a6a"/>
<rect x="744.54" y="416.7" width="1" height="29.3" fill="#6a6a6a"/>
<rect x="755.63" y="420.1" width="1" height="25.9" fill="#6a6a6a"/>
<rect x="766.72" y="419.1" width="1" height="26.9" fill="#6a6a6a"/>
<rect x="777.81" y="415.9" width="1" height="30.1" fill="#6a6a6a"/>
<rect x="788.90" y="416.7" width="1" height="29.3" fill="#6a6a6a"/>
<rect x="799.99" y="419.1" width="1" height="26.9" fill="#6a6a6a"/>
<rect x="811.08" y="416.7" width="1" height="29.3" fill="#6a6a6a"/>
<rect x="822.17" y="425.0" width="1" height="21.0" fill="#6a6a6a"/>
<rect x="833.26" y="420.8" width="1" height="25.2" fill="#6a6a6a"/>
<rect x="844.35" y="422.8" width="1" height="23.2" fill="#6a6a6a"/>
<rect x="855.44" y="422.8" width="1" height="23.2" fill="#6a6a6a"/>
<rect x="866.53" y="417.6" width="1" height="28.4" fill="#6a6a6a"/>
<rect x="877.62" y="422.8" width="1" height="23.2" fill="#6a6a6a"/>
<rect x="888.71" y="423.3" width="1" height="22.7" fill="#6a6a6a"/>
<rect x="6" y="445.9" width="913" height="1.15" fill="#36a436"/>
<rect x="899.50" y="424.6" width="1.8" height="20.9" fill="#ffffff"/>
<rect x="918.6" y="408" width="1.1" height="39" fill="#303030"/>
<rect x="912" y="410.70" width="7" height="1" fill="#303030"/>
<text x="922" y="414.2" font-size="8.1" fill="#262626" stroke="#262626" stroke-width="0.15" textLength="33.4" lengthAdjust="spacingAndGlyphs">200. Mr</text>
<rect x="916" y="415.10" width="3" height="1" fill="#303030"/>
<rect x="912" y="419.50" width="7" height="1" fill="#303030"/>
<text x="922" y="423.1" font-size="8.1" fill="#262626" stroke="#262626" stroke-width="0.15" textLength="33.4" lengthAdjust="spacingAndGlyphs">150. Mr</text>
<rect x="916" y="423.90" width="3" height="1" fill="#303030"/>
<rect x="912" y="428.30" width="7" height="1" fill="#303030"/>
<text x="922" y="431.9" font-size="8.1" fill="#262626" stroke="#262626" stroke-width="0.15" textLength="33.4" lengthAdjust="spacingAndGlyphs">100. Mr</text>
<rect x="916" y="432.70" width="3" height="1" fill="#303030"/>
<rect x="912" y="437.10" width="7" height="1" fill="#303030"/>
<text x="922" y="440.6" font-size="8.1" fill="#262626" stroke="#262626" stroke-width="0.15" textLength="27.4" lengthAdjust="spacingAndGlyphs">50. Mr</text>
<rect x="916" y="441.50" width="3" height="1" fill="#303030"/>
<text x="922" y="449.4" font-size="8.1" fill="#262626" stroke="#262626" stroke-width="0.15" textLength="5" lengthAdjust="spacingAndGlyphs">0</text>
</g>
<text x="9.3" y="416.6" font-size="8.4" fill="#303030" textLength="52.5" lengthAdjust="spacingAndGlyphs">Ag.Ort x Vol</text>
<text x="9" y="425.7" font-size="8.2" fill="#a8a8a8" textLength="9.9" lengthAdjust="spacingAndGlyphs">TL</text>
<text x="52.7" y="425.7" font-size="8.2" fill="#a8a8a8" textLength="80.9" lengthAdjust="spacingAndGlyphs">:117,727,500,000</text>
<g id="xt">
<rect x="11.80" y="451.4" width="2.4" height="4.8" rx="0.5" fill="#080808"/>
<rect x="22.89" y="451.4" width="2.4" height="4.8" rx="0.5" fill="#080808"/>
<rect x="33.98" y="451.4" width="2.4" height="4.8" rx="0.5" fill="#080808"/>
<rect x="45.07" y="451.4" width="2.4" height="4.8" rx="0.5" fill="#080808"/>
<rect x="56.16" y="451.4" width="2.4" height="4.8" rx="0.5" fill="#080808"/>
<rect x="67.25" y="451.4" width="2.4" height="4.8" rx="0.5" fill="#080808"/>
<rect x="78.34" y="451.4" width="2.4" height="4.8" rx="0.5" fill="#080808"/>
<rect x="89.43" y="451.4" width="2.4" height="4.8" rx="0.5" fill="#080808"/>
<rect x="100.52" y="451.4" width="2.4" height="4.8" rx="0.5" fill="#080808"/>
<rect x="111.61" y="451.4" width="2.4" height="4.8" rx="0.5" fill="#080808"/>
<rect x="122.70" y="451.4" width="2.4" height="4.8" rx="0.5" fill="#080808"/>
<rect x="133.79" y="451.4" width="2.4" height="4.8" rx="0.5" fill="#080808"/>
<rect x="144.88" y="451.4" width="2.4" height="4.8" rx="0.5" fill="#080808"/>
<rect x="155.97" y="451.4" width="2.4" height="4.8" rx="0.5" fill="#080808"/>
<rect x="167.06" y="451.4" width="2.4" height="4.8" rx="0.5" fill="#080808"/>
<rect x="178.15" y="451.4" width="2.4" height="4.8" rx="0.5" fill="#080808"/>
<rect x="189.24" y="451.4" width="2.4" height="4.8" rx="0.5" fill="#080808"/>
<rect x="200.33" y="451.4" width="2.4" height="4.8" rx="0.5" fill="#080808"/>
<rect x="211.42" y="451.4" width="2.4" height="4.8" rx="0.5" fill="#080808"/>
<rect x="222.51" y="451.4" width="2.4" height="4.8" rx="0.5" fill="#080808"/>
<rect x="233.60" y="451.4" width="2.4" height="4.8" rx="0.5" fill="#080808"/>
<rect x="244.69" y="451.4" width="2.4" height="4.8" rx="0.5" fill="#080808"/>
<rect x="255.78" y="451.4" width="2.4" height="4.8" rx="0.5" fill="#080808"/>
<rect x="266.87" y="451.4" width="2.4" height="4.8" rx="0.5" fill="#080808"/>
<rect x="277.96" y="451.4" width="2.4" height="4.8" rx="0.5" fill="#080808"/>
<rect x="289.05" y="451.4" width="2.4" height="4.8" rx="0.5" fill="#080808"/>
<rect x="300.14" y="451.4" width="2.4" height="4.8" rx="0.5" fill="#080808"/>
<rect x="311.23" y="451.4" width="2.4" height="4.8" rx="0.5" fill="#080808"/>
<rect x="322.32" y="451.4" width="2.4" height="4.8" rx="0.5" fill="#080808"/>
<rect x="333.41" y="451.4" width="2.4" height="4.8" rx="0.5" fill="#080808"/>
<rect x="344.50" y="451.4" width="2.4" height="4.8" rx="0.5" fill="#080808"/>
<rect x="355.59" y="451.4" width="2.4" height="4.8" rx="0.5" fill="#080808"/>
<rect x="366.68" y="451.4" width="2.4" height="4.8" rx="0.5" fill="#080808"/>
<rect x="377.77" y="451.4" width="2.4" height="4.8" rx="0.5" fill="#080808"/>
<rect x="388.86" y="451.4" width="2.4" height="4.8" rx="0.5" fill="#080808"/>
<rect x="399.95" y="451.4" width="2.4" height="4.8" rx="0.5" fill="#080808"/>
<rect x="411.04" y="451.4" width="2.4" height="4.8" rx="0.5" fill="#080808"/>
<rect x="422.13" y="451.4" width="2.4" height="4.8" rx="0.5" fill="#080808"/>
<rect x="433.22" y="451.4" width="2.4" height="4.8" rx="0.5" fill="#080808"/>
<rect x="444.31" y="451.4" width="2.4" height="4.8" rx="0.5" fill="#080808"/>
<rect x="455.40" y="451.4" width="2.4" height="4.8" rx="0.5" fill="#080808"/>
<rect x="466.49" y="451.4" width="2.4" height="4.8" rx="0.5" fill="#080808"/>
<rect x="477.58" y="451.4" width="2.4" height="4.8" rx="0.5" fill="#080808"/>
<rect x="488.67" y="451.4" width="2.4" height="4.8" rx="0.5" fill="#080808"/>
<rect x="499.76" y="451.4" width="2.4" height="4.8" rx="0.5" fill="#080808"/>
<rect x="510.85" y="451.4" width="2.4" height="4.8" rx="0.5" fill="#080808"/>
<rect x="521.94" y="451.4" width="2.4" height="4.8" rx="0.5" fill="#080808"/>
<rect x="533.03" y="451.4" width="2.4" height="4.8" rx="0.5" fill="#080808"/>
<rect x="544.12" y="451.4" width="2.4" height="4.8" rx="0.5" fill="#080808"/>
<rect x="555.21" y="451.4" width="2.4" height="4.8" rx="0.5" fill="#080808"/>
<rect x="566.30" y="451.4" width="2.4" height="4.8" rx="0.5" fill="#080808"/>
<rect x="577.39" y="451.4" width="2.4" height="4.8" rx="0.5" fill="#080808"/>
<rect x="588.48" y="451.4" width="2.4" height="4.8" rx="0.5" fill="#080808"/>
<rect x="599.57" y="451.4" width="2.4" height="4.8" rx="0.5" fill="#080808"/>
<rect x="610.66" y="451.4" width="2.4" height="4.8" rx="0.5" fill="#080808"/>
<rect x="621.75" y="451.4" width="2.4" height="4.8" rx="0.5" fill="#080808"/>
<rect x="632.84" y="451.4" width="2.4" height="4.8" rx="0.5" fill="#080808"/>
<rect x="643.93" y="451.4" width="2.4" height="4.8" rx="0.5" fill="#080808"/>
<rect x="655.02" y="451.4" width="2.4" height="4.8" rx="0.5" fill="#080808"/>
<rect x="666.11" y="451.4" width="2.4" height="4.8" rx="0.5" fill="#080808"/>
<rect x="677.20" y="451.4" width="2.4" height="4.8" rx="0.5" fill="#080808"/>
<rect x="688.29" y="451.4" width="2.4" height="4.8" rx="0.5" fill="#080808"/>
<rect x="699.38" y="451.4" width="2.4" height="4.8" rx="0.5" fill="#080808"/>
<rect x="710.47" y="451.4" width="2.4" height="4.8" rx="0.5" fill="#080808"/>
<rect x="721.56" y="451.4" width="2.4" height="4.8" rx="0.5" fill="#080808"/>
<rect x="732.65" y="451.4" width="2.4" height="4.8" rx="0.5" fill="#080808"/>
<rect x="754.83" y="451.4" width="2.4" height="4.8" rx="0.5" fill="#080808"/>
<rect x="765.92" y="451.4" width="2.4" height="4.8" rx="0.5" fill="#080808"/>
<rect x="777.01" y="451.4" width="2.4" height="4.8" rx="0.5" fill="#080808"/>
<rect x="788.10" y="451.4" width="2.4" height="4.8" rx="0.5" fill="#080808"/>
<rect x="799.19" y="451.4" width="2.4" height="4.8" rx="0.5" fill="#080808"/>
<rect x="810.28" y="451.4" width="2.4" height="4.8" rx="0.5" fill="#080808"/>
<rect x="821.37" y="451.4" width="2.4" height="4.8" rx="0.5" fill="#080808"/>
<rect x="832.46" y="451.4" width="2.4" height="4.8" rx="0.5" fill="#080808"/>
<rect x="843.55" y="451.4" width="2.4" height="4.8" rx="0.5" fill="#080808"/>
<rect x="854.64" y="451.4" width="2.4" height="4.8" rx="0.5" fill="#080808"/>
<rect x="865.73" y="451.4" width="2.4" height="4.8" rx="0.5" fill="#080808"/>
<rect x="876.82" y="451.4" width="2.4" height="4.8" rx="0.5" fill="#080808"/>
<rect x="887.91" y="451.4" width="2.4" height="4.8" rx="0.5" fill="#080808"/>
<rect x="899.00" y="451.4" width="2.4" height="4.8" rx="0.5" fill="#080808"/>
<rect x="145.68" y="455.6" width="1" height="11.6" fill="#202020"/>
<rect x="145.73" y="452.3" width="0.9" height="3" fill="#f4f4f4"/>
<text x="148.2" y="465.2" font-size="8.8" fill="#303030" textLength="25.4" lengthAdjust="spacingAndGlyphs">07/25</text>
<rect x="389.66" y="455.6" width="1" height="11.6" fill="#202020"/>
<rect x="389.71" y="452.3" width="0.9" height="3" fill="#f4f4f4"/>
<text x="392.2" y="465.2" font-size="8.8" fill="#303030" textLength="25.4" lengthAdjust="spacingAndGlyphs">08/25</text>
<rect x="622.55" y="455.6" width="1" height="11.6" fill="#202020"/>
<rect x="622.60" y="452.3" width="0.9" height="3" fill="#f4f4f4"/>
<text x="625.1" y="465.2" font-size="8.8" fill="#303030" textLength="25.4" lengthAdjust="spacingAndGlyphs">09/25</text>
<rect x="866.53" y="455.6" width="1" height="11.6" fill="#202020"/>
<rect x="866.58" y="452.3" width="0.9" height="3" fill="#f4f4f4"/>
<text x="869.0" y="465.2" font-size="8.8" fill="#303030" textLength="25.4" lengthAdjust="spacingAndGlyphs">10/25</text>
</g>
<g id="sb">
<rect x="4" y="467.2" width="915" height="8.4" fill="url(#hatch)"/>
<rect x="5" y="467.8" width="13.4" height="6.6" fill="#f0f0f0"/>
<path d="M5 474.4 H18.4 V467.8" fill="none" stroke="#686868" stroke-width="0.9"/>
<path d="M12.2 469.8 v2.6 l-1.6 -1.3 z" fill="#101010"/>
<rect x="897.8" y="467.6" width="20.6" height="6.4" fill="#f2f2f2"/><rect x="897.8" y="467.6" width="5.6" height="6.4" fill="#dedede"/>
<path d="M898 473.8 H918.4 V467.6" fill="none" stroke="#787878" stroke-width="0.9"/>
<path d="M903.6 467.6 V473.8" fill="none" stroke="#909090" stroke-width="0.9"/>
<path d="M910.4 469.4 v2.8 l1.8 -1.4 z" fill="#101010"/>
<rect x="936.2" y="458.1" width="16.5" height="16.6" fill="#e8e8e8" stroke="#a8a8a8" stroke-width="0.9"/>
<path d="M945.8 462.2 C943.4 461.8 941.6 463.4 941.2 465.6" fill="none" stroke="#2462b2" stroke-width="2.6"/>
<path d="M939.2 465 L943.6 465.6 L941 468.8 Z" fill="#2462b2"/>
<path d="M943.6 471.2 C946 471.4 947.8 469.8 948.4 467.4" fill="none" stroke="#2462b2" stroke-width="2.6"/>
<path d="M950.4 468 L946 467.4 L948.6 464.2 Z" fill="#2462b2"/>
<rect x="953.4" y="465.3" width="10.3" height="9.1" fill="#e6e6e6" stroke="#b0b0b0" stroke-width="0.9"/>
<rect x="964.4" y="465.3" width="8.4" height="9.1" fill="#e6e6e6" stroke="#b0b0b0" stroke-width="0.9"/>
<path d="M961.2 466.9 v5 l-5.3 -2.5 z" fill="#0808e8" stroke="#080830" stroke-width="0.5"/>
<path d="M965.9 466.9 v5 l4.7 -2.5 z" fill="#0808e8" stroke="#080830" stroke-width="0.5"/>
</g>
</svg></body></html>
